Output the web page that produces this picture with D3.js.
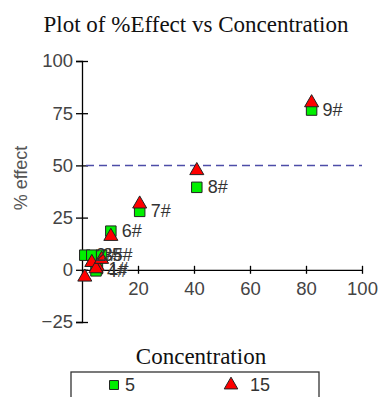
<!DOCTYPE html>
<html>
<head>
<meta charset="utf-8">
<script src="https://cdn.jsdelivr.net/npm/d3@7"></script>
<style>
  body { margin: 0; background: #fff; }
  svg { display: block; }
</style>
</head>
<body>
<svg width="380" height="397"></svg>
<script>
// data
var pointLabels = ["1#", "2#", "3#", "4#", "5#", "6#", "7#", "8#", "9#"];
var concX = [5.5, 1.0, 3.5, 5.0, 7.0, 10.3, 20.6, 41.0, 82.0];
var effect5 = [0.5, 7, 7, -0.5, 7, 18.5, 28, 39.5, 76.5];
var effect15 = [2, -3, 4, 1, 5.5, 16.5, 32, 48, 80.5];
var xTicks = [20, 40, 60, 80, 100];
var yTicks = [-25, 0, 25, 50, 75, 100];
var refLine = 50;
var seriesNames = ["5", "15"];

var svg = d3.select("svg");

var x = d3.scaleLinear().domain([0, 100]).range([82, 362]);
var y = d3.scaleLinear().domain([-25, 100]).range([322, 61]);

var sans = "'Liberation Sans', Arial, sans-serif";
var serif = "'Liberation Serif', 'DejaVu Serif', serif";

// title
svg.append("text")
  .attr("x", 196).attr("y", 32)
  .attr("text-anchor", "middle")
  .style("font-family", serif)
  .style("font-size", "23px")
  .style("fill", "#111")
  .text("Plot of %Effect vs Concentration");

// y axis
var yAxis = svg.append("g")
  .attr("transform", "translate(" + x(0) + ",0)")
  .call(d3.axisLeft(y).tickValues(yTicks).tickSize(6).tickPadding(3).tickFormat(d3.format("d")));
yAxis.select(".domain").attr("stroke", "#000").attr("stroke-width", 1.3);
yAxis.selectAll(".tick line").attr("x1", 6).attr("x2", -6).attr("stroke", "#000").attr("stroke-width", 1.3);
yAxis.selectAll(".tick text")
  .style("font-family", sans)
  .style("font-size", "18.5px")
  .style("fill", "#444");

// x axis through zero
var xAxis = svg.append("g")
  .attr("transform", "translate(0," + y(0) + ")")
  .call(d3.axisBottom(x).tickValues(xTicks).tickSize(4).tickPadding(8).tickSizeOuter(0));
xAxis.select(".domain").attr("stroke", "#000").attr("stroke-width", 1.3);
xAxis.selectAll(".tick line").attr("y1", -4).attr("y2", 4).attr("stroke", "#000").attr("stroke-width", 1.3);
xAxis.selectAll(".tick text")
  .style("font-family", sans)
  .style("font-size", "18.5px")
  .style("fill", "#444");

// y axis title
svg.append("text")
  .attr("transform", "translate(27,178) rotate(-90)")
  .attr("text-anchor", "middle")
  .style("font-family", sans)
  .style("font-size", "18px")
  .style("fill", "#555")
  .text("% effect");

// dashed reference line at 50
svg.append("line")
  .attr("x1", x(0) + 4).attr("x2", x(100))
  .attr("y1", y(refLine)).attr("y2", y(refLine))
  .attr("stroke", "#4d4da8")
  .attr("stroke-width", 1.5)
  .attr("stroke-dasharray", "8,5");

var rows = pointLabels.map(function (d, i) {
  return { label: d, x: concX[i], a: effect5[i], b: effect15[i] };
});

var square = d3.symbol().type(d3.symbolSquare).size(110);
var tri = d3.symbol().type(d3.symbolTriangle).size(85);

// squares (concentration 5)
svg.append("g").selectAll("path")
  .data(rows).enter().append("path")
  .attr("d", square)
  .attr("transform", function (d) { return "translate(" + x(d.x) + "," + y(d.a) + ")"; })
  .attr("fill", "#00f000")
  .attr("stroke", "#222")
  .attr("stroke-width", 1);

// triangles (concentration 15)
svg.append("g").selectAll("path")
  .data(rows).enter().append("path")
  .attr("d", tri)
  .attr("transform", function (d) { return "translate(" + x(d.x) + "," + (y(d.b) + 1) + ")"; })
  .attr("fill", "#ff0000")
  .attr("stroke", "#222")
  .attr("stroke-width", 1);

// point labels
svg.append("g").selectAll("text")
  .data(rows).enter().append("text")
  .attr("x", function (d) { return x(d.x) + 11; })
  .attr("y", function (d) { return y(d.a) + 6; })
  .style("font-family", sans)
  .style("font-size", "18px")
  .style("fill", "#333")
  .text(function (d) { return d.label; });

// legend
svg.append("text")
  .attr("x", 201).attr("y", 364)
  .attr("text-anchor", "middle")
  .style("font-family", serif)
  .style("font-size", "23px")
  .style("fill", "#111")
  .text("Concentration");

svg.append("rect")
  .attr("x", 71).attr("y", 372)
  .attr("width", 248).attr("height", 40)
  .attr("fill", "none")
  .attr("stroke", "#333")
  .attr("stroke-width", 1.3);

var leg = svg.append("g").selectAll("g")
  .data(seriesNames).enter().append("g")
  .attr("transform", function (d, i) { return "translate(" + (i === 0 ? 114 : 231) + ",385)"; });
leg.append("path")
  .attr("d", function (d, i) { return i === 0 ? d3.symbol().type(d3.symbolSquare).size(80)() : d3.symbol().type(d3.symbolTriangle).size(80)(); })
  .attr("fill", function (d, i) { return i === 0 ? "#00f000" : "#ff0000"; })
  .attr("stroke", "#222");
leg.append("text")
  .attr("x", function (d, i) { return i === 0 ? 11 : 19; })
  .attr("y", 6)
  .style("font-family", sans)
  .style("font-size", "18px")
  .style("fill", "#333")
  .text(function (d) { return d; });
</script>
</body>
</html>
